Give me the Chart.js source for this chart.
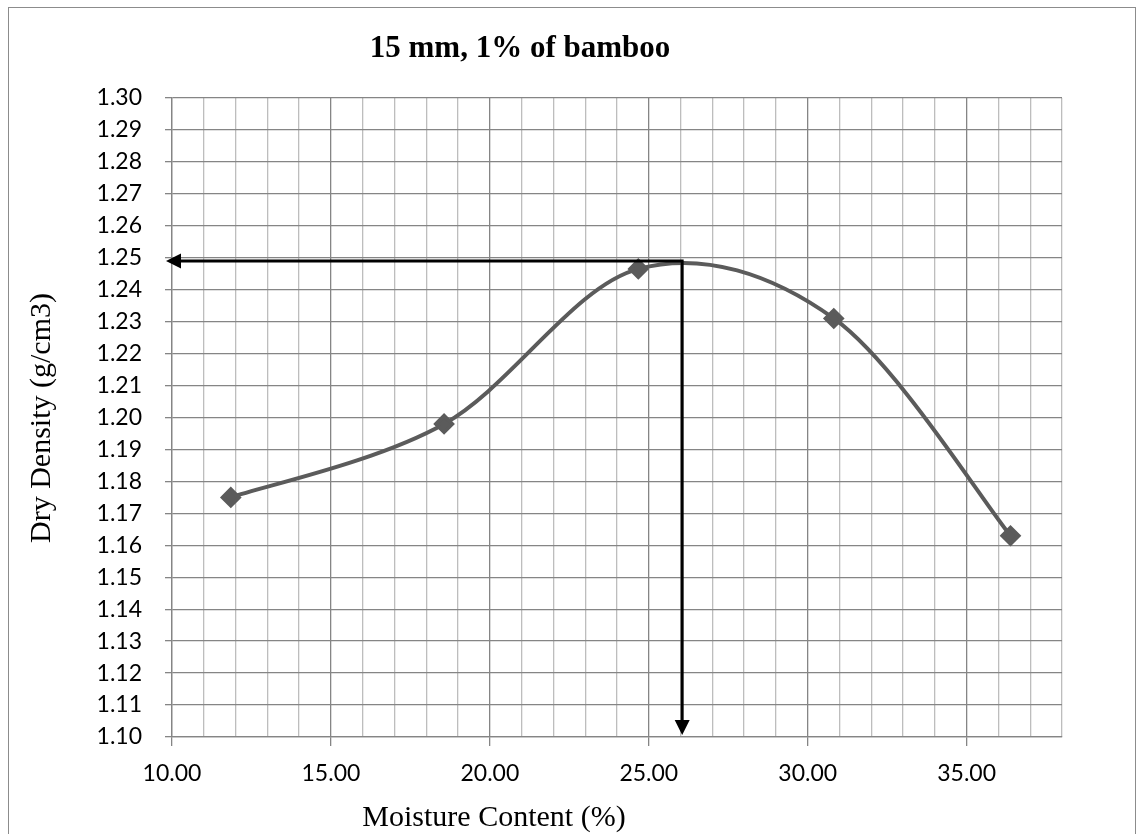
<!DOCTYPE html>
<html>
<head>
<meta charset="utf-8">
<script src="https://cdn.jsdelivr.net/npm/chart.js@4.4.1/dist/chart.umd.min.js"></script>
<style>
  body { margin: 0; background: #fff; }
  #wrap { width: 1145px; height: 834px; }
</style>
</head>
<body>
<div id="wrap"><canvas id="compaction"></canvas></div>
<script>
// compaction test, 15 mm fibres at 1% bamboo
const moisture = [11.85, 18.56, 24.67, 30.82, 36.38];
const dryDensity = [1.175, 1.198, 1.2465, 1.231, 1.163];

// optimum moisture content / maximum dry density
const omc = 26.05;
const mdd = 1.249;

const xMin = 10, xMax = 38, xStep = 1, xMajor = 5;
const yMin = 1.10, yMax = 1.30, yStep = 0.01;

const chartTitle = "15 mm, 1% of bamboo";
const xTitle = "Moisture Content (%)";
const yTitle = "Dry Density (g/cm3)";

const majorGrid = "#858585";
const minorGrid = "#bdbdbd";
const curveColor = "#5b5b5b";

const isMajor = (v) => Math.abs(v % xMajor) < 1e-6;

// spreadsheet-style smoothing: control points at 1/6 of the neighbour chord
const smoothLine = {
  id: "smoothLine",
  beforeDatasetsDraw(chart) {
    chart.getSortedVisibleDatasetMetas().forEach((meta) => {
      const line = meta.dataset;
      if (!line) return;
      line.updateControlPoints(chart.chartArea, meta.iAxis);
      const pts = meta.data;
      const n = pts.length;
      for (let i = 0; i < n; i++) {
        const p = pts[i];
        const prev = pts[Math.max(i - 1, 0)];
        const next = pts[Math.min(i + 1, n - 1)];
        const dx = (next.x - prev.x) / 6;
        const dy = (next.y - prev.y) / 6;
        p.cp1x = p.x - dx;
        p.cp1y = p.y - dy;
        p.cp2x = p.x + dx;
        p.cp2y = p.y + dy;
      }
      line._path = undefined;
    });
  },
};

// frame, titles and the two arrows marking OMC / MDD
const extras = {
  id: "extras",
  beforeDraw(chart) {
    const c = chart.ctx;
    c.save();
    c.strokeStyle = "#8c8c8c";
    c.lineWidth = 1;
    c.strokeRect(8.5, 7.5, 1127, 900);
    c.restore();
  },
  afterDatasetsDraw(chart) {
    const c = chart.ctx;
    const xs = chart.scales.x, ys = chart.scales.y;
    const px = xs.getPixelForValue(omc);
    const py = ys.getPixelForValue(mdd);
    const left = xs.getPixelForValue(xMin);
    const bottom = ys.getPixelForValue(yMin);
    c.save();
    c.strokeStyle = "#000";
    c.fillStyle = "#000";
    c.lineWidth = 3;
    c.beginPath();
    c.moveTo(left + 8, py);
    c.lineTo(px, py);
    c.lineTo(px, bottom - 12);
    c.stroke();
    // left head
    c.beginPath();
    c.moveTo(left - 6, py);
    c.lineTo(left + 9, py - 7.5);
    c.lineTo(left + 9, py + 7.5);
    c.closePath();
    c.fill();
    // down head
    c.beginPath();
    c.moveTo(px, bottom - 2);
    c.lineTo(px - 7.5, bottom - 17);
    c.lineTo(px + 7.5, bottom - 17);
    c.closePath();
    c.fill();
    c.restore();
  },
  afterDraw(chart) {
    const c = chart.ctx;
    c.save();
    c.fillStyle = "#000";
    c.textAlign = "center";
    c.textBaseline = "alphabetic";
    c.font = "bold 31px 'Liberation Serif'";
    c.fillText(chartTitle, 520, 57);
    c.font = "30px 'Liberation Serif'";
    c.fillText(xTitle, 494, 826);
    c.translate(50, 418);
    c.rotate(-Math.PI / 2);
    c.fillText(yTitle, 0, 0);
    c.restore();
  },
};

new Chart(document.getElementById("compaction"), {
  type: "scatter",
  data: {
    datasets: [
      {
        data: moisture.map((m, i) => ({ x: m, y: dryDensity[i] })),
        showLine: true,
        borderColor: curveColor,
        backgroundColor: curveColor,
        borderWidth: 4,
        tension: 0.5,
        capBezierPoints: false,
        pointStyle: "rectRot",
        pointRadius: 8,
        pointHoverRadius: 8,
      },
    ],
  },
  options: {
    responsive: true,
    maintainAspectRatio: false,
    animation: false,
    layout: { padding: { top: 98, right: 83, left: 0, bottom: 0 } },
    plugins: {
      legend: { display: false },
      tooltip: { enabled: false },
    },
    scales: {
      x: {
        type: "linear",
        min: xMin,
        max: xMax,
        afterFit(scale) { scale.height = 97; },
        border: { color: majorGrid, width: 1.3 },
        grid: {
          lineWidth: 1.3,
          tickLength: 9,
          color: (ctx) => (isMajor(ctx.tick.value) ? majorGrid : minorGrid),
          tickColor: (ctx) => (isMajor(ctx.tick.value) ? majorGrid : "rgba(0,0,0,0)"),
        },
        ticks: {
          stepSize: xStep,
          autoSkip: false,
          maxRotation: 0,
          padding: 14,
          color: "#000",
          font: { family: "Lato", size: 23 },
          callback: (v) => (isMajor(v) ? v.toFixed(2) : ""),
        },
      },
      y: {
        min: yMin,
        max: yMax,
        afterFit(scale) { scale.width = 172; },
        border: { color: majorGrid, width: 1.3 },
        grid: {
          lineWidth: 1.3,
          tickLength: 7,
          color: majorGrid,
        },
        ticks: {
          stepSize: yStep,
          autoSkip: false,
          padding: 23,
          color: "#000",
          font: { family: "Lato", size: 23 },
          callback: (v) => v.toFixed(2),
        },
      },
    },
  },
  plugins: [smoothLine, extras],
});
</script>
</body>
</html>
